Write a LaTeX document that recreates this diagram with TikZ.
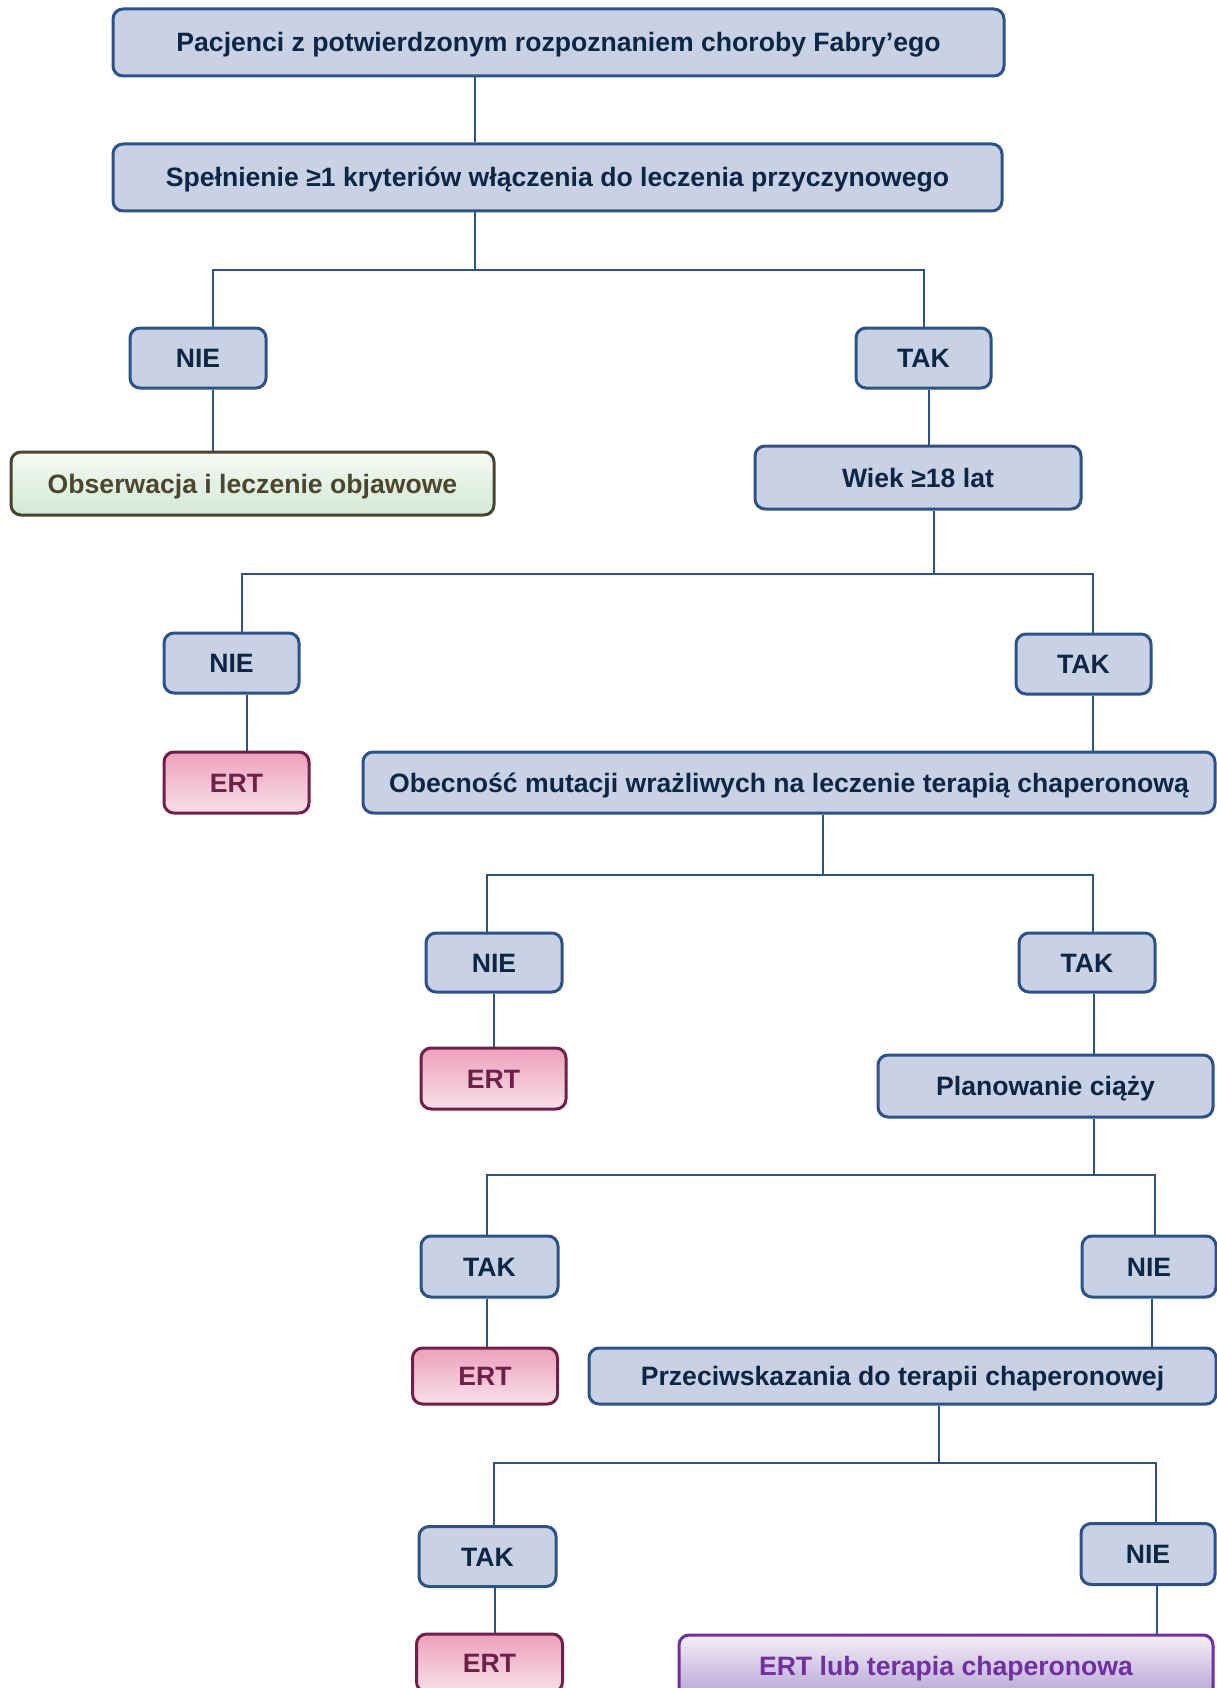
\documentclass[tikz,border=0pt]{standalone}
\usepackage{fontspec}
\setmainfont{Liberation Sans}
\definecolor{bfill}{RGB}{201,210,229}
\definecolor{bdraw}{RGB}{44,82,135}
\definecolor{btext}{RGB}{12,38,70}
\definecolor{ptop}{RGB}{236,160,188}
\definecolor{pbot}{RGB}{249,224,234}
\definecolor{pdraw}{RGB}{112,32,72}
\definecolor{ptext}{RGB}{110,33,72}
\definecolor{gtop}{RGB}{246,250,245}
\definecolor{gbot}{RGB}{210,233,212}
\definecolor{gdraw}{RGB}{75,68,45}
\definecolor{gtext}{RGB}{75,70,45}
\definecolor{vtop}{RGB}{243,239,248}
\definecolor{vbot}{RGB}{183,163,213}
\definecolor{vdraw}{RGB}{112,48,160}
\tikzset{
  base/.style={rounded corners=10pt, line width=3pt, inner sep=0pt,
    text height=19pt, text depth=0pt,
    font=\fontsize{26.6}{30}\selectfont\bfseries},
  bluebox/.style={base, fill=bfill, draw=bdraw, text=btext},
  pinkbox/.style={base, top color=ptop, bottom color=pbot, draw=pdraw, text=ptext},
  greenbox/.style={base, top color=gtop, bottom color=gbot, draw=gdraw, text=gtext},
  violetbox/.style={base, top color=vtop, bottom color=vbot, draw=vdraw, text=vdraw},
  conn/.style={draw=bdraw, line width=2.6pt},
  sz/.style 2 args={minimum width=#1pt, minimum height=#2pt}
}
\begin{document}
\begin{tikzpicture}[x=1pt,y=-1pt]
\useasboundingbox (0,0) rectangle (1217,1688);
\clip (0,0) rectangle (1217,1688);
% nodes
\node[bluebox, sz={891}{67}] (box1) at (558.5,42.5) {Pacjenci z potwierdzonym rozpoznaniem choroby Fabry’ego};
\node[bluebox, sz={889}{67}] (box2) at (557.5,177.5) {Spełnienie ≥1 kryteriów włączenia do leczenia przyczynowego};
\node[bluebox, sz={136}{60}] (nie1) at (198,358) {NIE};
\node[bluebox, sz={135}{60}] (tak1) at (923.5,358) {TAK};
\node[greenbox, sz={483}{63}] (obs) at (252.5,483.5) {Obserwacja i leczenie objawowe};
\node[bluebox, sz={326}{63}] (wiek) at (918,477.5) {Wiek ≥18 lat};
\node[bluebox, sz={135}{60}] (nie2) at (231.5,663) {NIE};
\node[bluebox, sz={135}{60}] (tak2) at (1083.5,664) {TAK};
\node[pinkbox, sz={145}{61}] (ert1) at (236.5,782.5) {ERT};
\node[bluebox, sz={852}{61}] (obec) at (789,782.5) {Obecność mutacji wrażliwych na leczenie terapią chaperonową};
\node[bluebox, sz={136}{59}] (nie3) at (494,962.5) {NIE};
\node[bluebox, sz={136}{59}] (tak3) at (1087,962.5) {TAK};
\node[pinkbox, sz={145}{61}] (ert2) at (493.5,1078.5) {ERT};
\node[bluebox, sz={335}{62}] (plan) at (1045.5,1086) {Planowanie ciąży};
\node[bluebox, sz={137}{61}] (tak4) at (489.5,1266.5) {TAK};
\node[bluebox, sz={134}{61}] (nie4) at (1149,1266.5) {NIE};
\node[pinkbox, sz={145}{56}] (ert3) at (485,1376) {ERT};
\node[bluebox, sz={627}{56}] (przec) at (902.5,1376) {Przeciwskazania do terapii chaperonowej};
\node[bluebox, sz={137}{60}] (tak5) at (487.5,1556.5) {TAK};
\node[bluebox, sz={134}{61}] (nie5) at (1148,1554) {NIE};
\node[pinkbox, sz={146}{58}] (ert4) at (489.5,1663) {ERT};
\node[violetbox, sz={534}{62}] (ertlub) at (946,1666) {ERT lub terapia chaperonowa};
% junction coordinates
\coordinate (j1) at (475,270);
\coordinate (a1) at (213,270);
\coordinate (b1) at (924,270);
\coordinate (v1) at (929,0);
\coordinate (j2) at (934,574);
\coordinate (a2) at (242,574);
\coordinate (b2) at (1093,574);
\coordinate (v2) at (247,0);
\coordinate (j3) at (823,875);
\coordinate (a3) at (487,875);
\coordinate (b3) at (1093,875);
\coordinate (v3) at (494,0);
\coordinate (j4) at (1094,1175);
\coordinate (a4) at (487,1175);
\coordinate (b4) at (1155,1175);
\coordinate (v4) at (1152,0);
\coordinate (j5) at (939,1463);
\coordinate (a5) at (494,1463);
\coordinate (b5) at (1156,1463);
\coordinate (v5) at (495,0);
\coordinate (w5) at (1157,0);
% connectors
\draw[conn] (box1.south -| j1) -- (box2.north -| j1);
\draw[conn] (box2.south -| j1) -- (j1);
\draw[conn] (nie1.north -| a1) |- (b1) -- (tak1.north -| b1);
\draw[conn] (nie1.south -| a1) -- (obs.north -| a1);
\draw[conn] (tak1.south -| v1) -- (wiek.north -| v1);
\draw[conn] (wiek.south -| j2) -- (j2);
\draw[conn] (nie2.north -| a2) |- (b2) -- (tak2.north -| b2);
\draw[conn] (nie2.south -| v2) -- (ert1.north -| v2);
\draw[conn] (tak2.south -| b2) -- (obec.north -| b2);
\draw[conn] (obec.south -| j3) -- (j3);
\draw[conn] (nie3.north -| a3) |- (b3) -- (tak3.north -| b3);
\draw[conn] (nie3.south -| v3) -- (ert2.north -| v3);
\draw[conn] (tak3.south -| j4) -- (plan.north -| j4);
\draw[conn] (plan.south -| j4) -- (j4);
\draw[conn] (tak4.north -| a4) |- (b4) -- (nie4.north -| b4);
\draw[conn] (tak4.south -| a4) -- (ert3.north -| a4);
\draw[conn] (nie4.south -| v4) -- (przec.north -| v4);
\draw[conn] (przec.south -| j5) -- (j5);
\draw[conn] (tak5.north -| a5) |- (b5) -- (nie5.north -| b5);
\draw[conn] (tak5.south -| v5) -- (ert4.north -| v5);
\draw[conn] (nie5.south -| w5) -- (ertlub.north -| w5);
\end{tikzpicture}
\end{document}
